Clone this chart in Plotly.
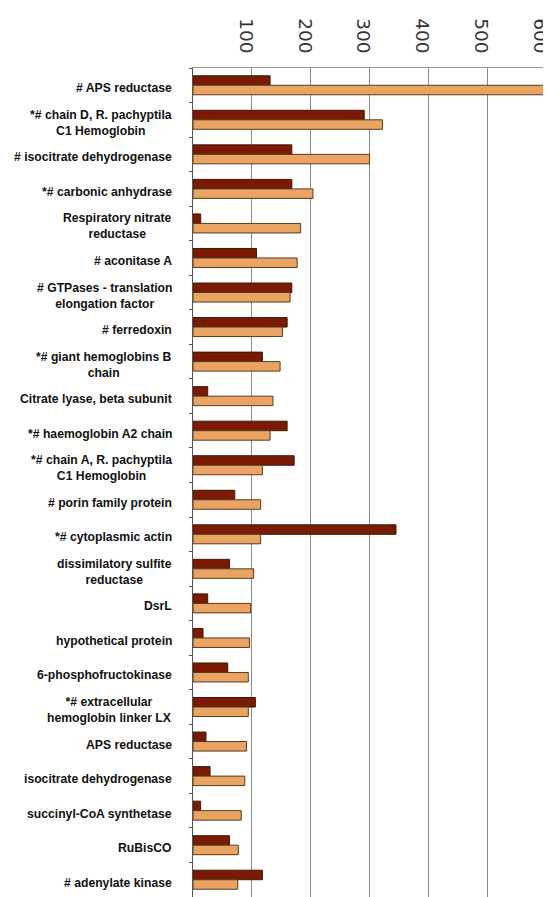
import plotly.graph_objects as go

categories = [
    "# APS reductase",
    "*# chain D, R. pachyptila<br>C1 Hemoglobin",
    "# isocitrate dehydrogenase",
    "*# carbonic anhydrase",
    "Respiratory nitrate<br>reductase",
    "# aconitase A",
    "# GTPases - translation<br>elongation factor",
    "# ferredoxin",
    "*# giant hemoglobins B<br>chain",
    "Citrate lyase, beta subunit",
    "*# haemoglobin A2 chain",
    "*# chain A, R. pachyptila<br>C1 Hemoglobin",
    "# porin family protein",
    "*# cytoplasmic actin",
    "dissimilatory sulfite<br>reductase",
    "DsrL",
    "hypothetical protein",
    "6-phosphofructokinase",
    "*# extracellular<br>hemoglobin linker LX",
    "APS reductase",
    "isocitrate dehydrogenase",
    "succinyl-CoA synthetase",
    "RuBisCO",
    "# adenylate kinase",
]

series_dark = [131, 291, 168, 168, 13, 108, 168, 160, 118, 25, 160, 172,
               71, 345, 62, 25, 17, 59, 106, 22, 29, 13, 62, 118]
series_light = [610, 322, 300, 204, 183, 177, 165, 152, 148, 136, 131, 118,
                115, 115, 103, 98, 96, 94, 94, 91, 88, 82, 77, 76]

tick_vals = [100, 200, 300, 400, 500, 600]
tick_text = ["100", "200", "300", "400", "500", "600"]

fig = go.Figure()
fig.add_trace(go.Bar(
    y=categories, x=series_dark, orientation="h", name="dark",
    marker=dict(color="#7a1a02", line=dict(color="#3a1a0a", width=1)),
))
fig.add_trace(go.Bar(
    y=categories, x=series_light, orientation="h", name="light",
    marker=dict(color="#e9a464", line=dict(color="#5a3a1a", width=1)),
))

for c in categories:
    fig.add_annotation(
        x=0, xref="paper", y=c, yref="y", text=c, showarrow=False,
        xanchor="right", yanchor="middle", align="center", xshift=-19,
        yshift=-3,
        font=dict(family="Liberation Sans, Arial, sans-serif", size=12.2,
                  color="#111111", weight="bold"),
    )

fig.update_layout(
    width=543, height=889,
    margin=dict(l=185, r=5, t=60, b=0, autoexpand=False),
    paper_bgcolor="white", plot_bgcolor="white",
    showlegend=False,
    barmode="group", bargap=0.45, bargroupgap=0,
    xaxis=dict(
        side="top", range=[0, 600], tickvals=tick_vals, ticktext=tick_text,
        tickangle=90, showgrid=True, gridcolor="#8a8a8a", gridwidth=1,
        showline=True, linecolor="#9a9a9a", linewidth=1,
        zeroline=False, ticks="", ticklabelstandoff=7, ticklabelshift=-6,
        ticklabeloverflow="allow",
        tickfont=dict(family="DejaVu Sans, Verdana, sans-serif", size=18.5,
                      color="#333333"),
        automargin=False, fixedrange=True,
    ),
    yaxis=dict(
        autorange="reversed", showticklabels=False, tickson="boundaries",
        ticks="outside", ticklen=3, tickcolor="#555555",
        showline=True, linecolor="#555555", linewidth=1,
        showgrid=False, zeroline=False, automargin=False,
    ),
)

fig.write_html("out.html")
